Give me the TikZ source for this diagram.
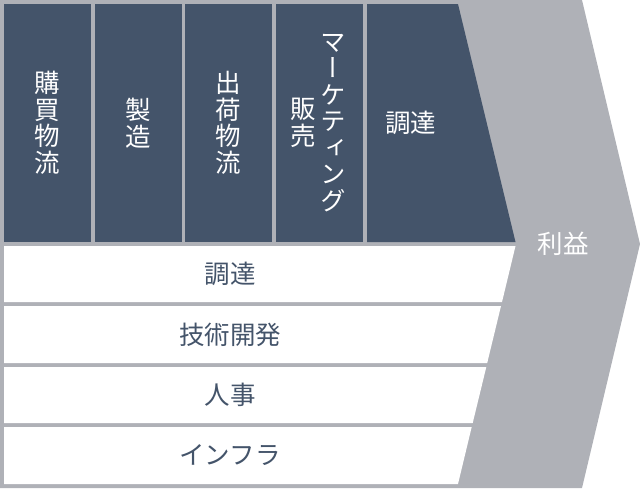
\documentclass[tikz,border=0pt]{standalone}
\usepackage{fontspec}
\setmainfont{Noto Sans CJK JP}
\newfontfamily\vjp[RawFeature=+vert]{Noto Sans CJK JP}
\definecolor{actdark}{HTML}{44546A}
\definecolor{framegray}{HTML}{AFB1B7}

\begin{document}
\begin{tikzpicture}[x=1pt, y=-1pt,
  act/.style={rectangle, fill=actdark, minimum width=87pt,
    minimum height=238pt, inner sep=0pt},
  vlbl/.style={text=white, align=center, inner sep=0pt,
    font=\vjp\fontsize{25.5}{26.5}\selectfont},
  hlbl/.style={text=actdark, inner sep=0pt,
    font=\fontsize{25.5}{27}\selectfont},
  wlbl/.style={hlbl, text=white},
]
\useasboundingbox (0,0) rectangle (640,488);

% Chevron and frame
\fill[framegray] (0,0) -- (582,0) -- (640,244) -- (582,488) -- (0,488) -- cycle;
\node[wlbl] (margin) at (563,244) {利益};

% Primary activities
\node[act, vlbl] (inlog) at (47.5,123) {購\\買\\物\\流};
\node[act, vlbl] (ops) at (138,123) {製\\造};
\node[act, vlbl] (outlog) at (228.5,123) {出\\荷\\物\\流};
\node[act] (mkt) at (319.5,123) {};
\node[vlbl] (mktb) at (303,123) {販\\売};
\node[vlbl] (mkta) at (333,123) {マ\\ー\\ケ\\テ\\ィ\\ン\\グ};
\fill[actdark] (367,4) -- (458,4) -- (515.5,242) -- (367,242) -- cycle;
\node[wlbl] (svc) at (410.5,123) {調達};

% Support activities
\fill[white] (4,246) -- (515.5,246) -- (502,302) -- (4,302) -- cycle;
\node[hlbl] (proc) at (230,274) {調達};
\fill[white] (4,306) -- (501,306) -- (487.2,363) -- (4,363) -- cycle;
\node[hlbl] (tech) at (230,334.5) {技術開発};
\fill[white] (4,367) -- (486.3,367) -- (472.7,423) -- (4,423) -- cycle;
\node[hlbl] (hrm) at (230,395) {人事};
\fill[white] (4,427) -- (471.7,427) -- (458,484) -- (4,484) -- cycle;
\node[hlbl] (infra) at (230,455.5) {インフラ};

\end{tikzpicture}
\end{document}
